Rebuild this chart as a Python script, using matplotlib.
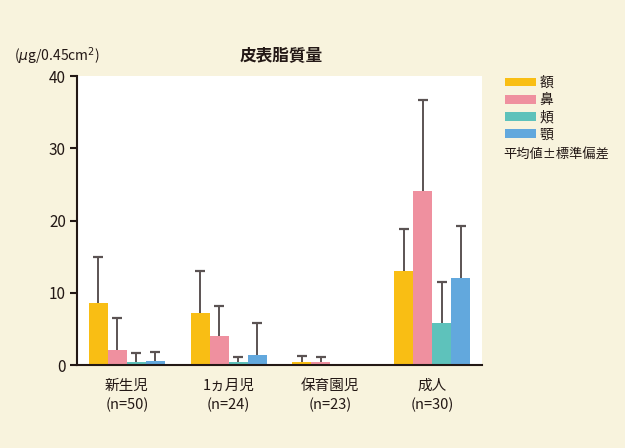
import numpy as np
import matplotlib
matplotlib.use("Agg")
from matplotlib import pyplot as plt
from matplotlib.patches import Patch

plt.rcParams['font.family'] = ['Noto Sans CJK JP', 'DejaVu Sans']

# data
groups = ["新生児\n(n=50)", "1ヵ月児\n(n=24)", "保育園児\n(n=23)", "成人\n(n=30)"]
sites = ["額", "鼻", "頬", "顎"]
forehead = [8.6, 7.15, 0.36, 13.05]
nose = [2.1, 4.0, 0.36, 24.1]
cheek = [0.36, 0.42, np.nan, 5.75]
chin = [0.6, 1.4, np.nan, 12.05]
forehead_sd = [6.4, 5.9, 0.85, 5.75]
nose_sd = [4.4, 4.15, 0.8, 12.6]
cheek_sd = [1.25, 0.75, np.nan, 5.7]
chin_sd = [1.25, 4.35, np.nan, 7.25]

colors = ["#F9BE14", "#EF909F", "#5EC2BB", "#62A8DD"]
bg = "#F8F3DD"
txt = "#231815"
err_col = "#5B5353"

fig = plt.figure(figsize=(6.25, 4.48), dpi=100, facecolor=bg)
ax = fig.add_axes([77/625, 1 - 365/448, 405/625, 289/448])
ax.set_facecolor("white")

x = np.arange(len(groups))
width = 0.187
series = [(forehead, forehead_sd), (nose, nose_sd), (cheek, cheek_sd), (chin, chin_sd)]
for i, (vals, sd) in enumerate(series):
    pos = x + (i - 1.5) * width
    vals = np.array(vals, dtype=float)
    sd = np.array(sd, dtype=float)
    ax.bar(pos, vals, width, color=colors[i], linewidth=0, zorder=2)
    ok = ~np.isnan(vals)
    # upper error bar only: stem + cap
    ax.vlines(pos[ok], vals[ok], vals[ok] + sd[ok], color=err_col, linewidth=1.4, zorder=3)
    ax.plot(pos[ok], vals[ok] + sd[ok], linestyle="none", marker="_", markersize=6.5,
            markeredgewidth=1.6, color=err_col, zorder=3)

ax.set_xlim(-0.49, 3.49)
ax.set_ylim(0, 40)
ax.set_yticks([0, 10, 20, 30, 40])
ax.set_xticks(x)
ax.set_xticklabels(groups, linespacing=1.45)
ax.tick_params(axis="x", length=0, pad=10, labelsize=10.5, labelcolor=txt)
ax.tick_params(axis="y", length=5, width=1.5, color=txt, pad=3, labelsize=11, labelcolor=txt)
for side in ["top", "right"]:
    ax.spines[side].set_visible(False)
for side in ["left", "bottom"]:
    ax.spines[side].set_color(txt)
    ax.spines[side].set_linewidth(1.5)

fig.text(281/625, 1 - 55/448, "皮表脂質量", ha="center", va="center",
         fontsize=12, fontweight="bold", color=txt)
fig.text(14/625, 1 - 56/448, "($\\mu$g/0.45cm$^2$)", ha="left", va="center",
         fontsize=10, color=txt)

handles = [Patch(facecolor=c, edgecolor="none") for c in colors]
fig.legend(handles, sites, loc="upper left", bbox_to_anchor=(498/625, 1 - 69/448),
           frameon=False, handlelength=2.2, handleheight=0.6, handletextpad=0.3,
           labelspacing=0.23, fontsize=10, labelcolor=txt, borderpad=0)
fig.text(503/625, 1 - 155/448, "平均値±標準偏差", ha="left", va="center",
         fontsize=9.5, color=txt)

fig.savefig("out.png", dpi=100, facecolor=bg)
